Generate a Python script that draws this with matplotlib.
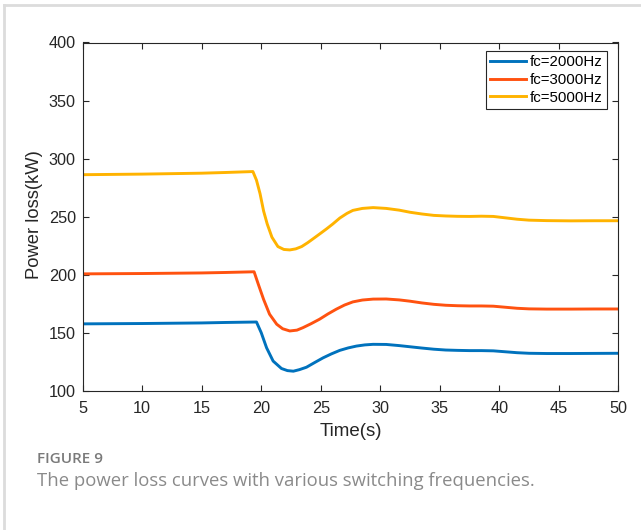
#!/usr/bin/env python3

import matplotlib
matplotlib.use('Agg')
import matplotlib.pyplot as plt
from matplotlib.lines import Line2D

# time (s) / power loss (kW)
t_2000 = [5, 10, 15, 17, 19.6, 20.0, 20.45, 21.0, 21.7, 22.2, 22.7, 23.2, 23.8, 24.5, 25.2,
          25.9, 26.6, 27.3, 28.0, 28.7, 29.4, 30.5, 31.6, 32.5, 33.5, 34.5, 35.5, 36.5,
          37.5, 38.5, 39.5, 40.5, 41.5, 42.5, 44, 46, 48, 50]
p_2000 = [158.0, 158.3, 158.8, 159.2, 159.6, 150.4, 137.4, 126.0, 119.6, 117.8, 117.3, 118.6,
          120.7, 124.8, 128.8, 132.2, 135.2, 137.3, 138.9, 139.9, 140.4, 140.3, 139.3, 138.3,
          137.2, 136.2, 135.5, 135.2, 135.0, 135.0, 134.8, 134.0, 133.2, 132.7, 132.5, 132.5,
          132.6, 132.7]

t_3000 = [5, 10, 15, 17, 19.4, 19.75, 20.2, 20.7, 21.3, 21.8, 22.4, 23.0, 23.5, 24.2, 24.9,
          25.6, 26.3, 27.0, 27.7, 28.5, 29.4, 30.5, 31.6, 32.5, 33.5, 34.5, 35.5, 36.5, 37.5,
          38.5, 39.5, 40.5, 41.5, 42.5, 44, 46, 48, 50]
p_3000 = [201.0, 201.3, 201.8, 202.2, 202.8, 192.2, 179.0, 166.3, 157.7, 153.8, 151.9, 152.6,
          154.7, 158.2, 162.0, 166.5, 170.6, 174.2, 176.9, 178.5, 179.3, 179.4, 178.6, 177.5,
          176.0, 174.8, 174.0, 173.6, 173.4, 173.4, 173.2, 172.3, 171.4, 170.9, 170.7, 170.7,
          170.8, 170.8]

t_5000 = [5, 10, 15, 17, 19.3, 19.6, 19.9, 20.2, 20.5, 20.9, 21.4, 21.9, 22.4, 22.9, 23.4,
          23.9, 24.4, 25.0, 25.5, 26.0, 26.6, 27.2, 27.7, 28.5, 29.4, 30.5, 31.6, 32.5, 33.5,
          34.5, 35.5, 36.5, 37.5, 38.5, 39.5, 40.5, 41.5, 42.5, 44, 46, 48, 50]
p_5000 = [286.3, 286.8, 287.6, 288.2, 289.0, 281.6, 270.0, 255.0, 244.0, 232.5, 224.5, 222.0,
          221.6, 222.5, 224.5, 227.8, 231.5, 236.0, 239.8, 243.8, 249.0, 253.0, 255.6, 257.3,
          258.0, 257.3, 255.8, 254.0, 252.5, 251.3, 250.8, 250.5, 250.4, 250.6, 250.4, 249.2,
          248.0, 247.2, 246.8, 246.6, 246.7, 246.7]

labels = ['fc=2000Hz', 'fc=3000Hz', 'fc=5000Hz']
colors = ['#0072BD', '#FF5210', '#FFB300']

plt.rcParams['font.family'] = ['Liberation Sans', 'DejaVu Sans']

fig = plt.figure(figsize=(6.41, 5.30), dpi=100)
ax = fig.add_axes([82.7 / 641, 1 - 391.3 / 530, (618.3 - 82.7) / 641, (391.3 - 42.5) / 530])

for t, p, lab, c in zip([t_2000, t_3000, t_5000], [p_2000, p_3000, p_5000], labels, colors):
    ax.plot(t, p, color=c, lw=2.1, label=lab)

ax.set_xlim(5, 50)
ax.set_ylim(100, 400)
ax.set_xticks(range(5, 51, 5))
ax.set_yticks(range(100, 401, 50))
ax.tick_params(direction='in', length=4, width=0.8, colors='#262626', labelsize=11.7,
               top=True, right=True, pad=5)
ax.tick_params(axis='x', pad=7)
for s in ax.spines.values():
    s.set_color('#262626')
    s.set_linewidth(0.8)

ax.set_xlabel('Time(s)', fontsize=13.5, color='#262626', labelpad=5)
ax.set_ylabel('Power loss(kW)', fontsize=13.2, color='#262626')
ax.yaxis.set_label_coords(-0.075, 0.508)

leg = ax.legend(loc='upper right', bbox_to_anchor=(0.9795, 0.977), fontsize=10.8,
                handlelength=2.4, handletextpad=0.25, borderpad=0.3, labelspacing=0.25,
                borderaxespad=0, fancybox=False, framealpha=1)
leg.get_frame().set_edgecolor('#262626')
leg.get_frame().set_linewidth(0.8)

# light border of the figure panel
fig.add_artist(Line2D([4 / 641, 1], [1 - 5 / 530, 1 - 5 / 530], color='#dcdcdc', lw=2))
fig.add_artist(Line2D([4 / 641, 4 / 641], [0, 1 - 5 / 530], color='#dcdcdc', lw=2))

fig.text(37 / 641, 1 - 459 / 530, 'FIGURE 9', fontsize=11, fontweight='semibold',
         color='#7a7a7a', family=['Open Sans', 'DejaVu Sans'], va='center')
fig.text(37 / 641, 1 - 481 / 530, 'The power loss curves with various switching frequencies.',
         fontsize=13.3, color='#8a8a8a', family=['Open Sans', 'DejaVu Sans'], va='center')

fig.savefig('out.png', dpi=100)
plt.close(fig)
